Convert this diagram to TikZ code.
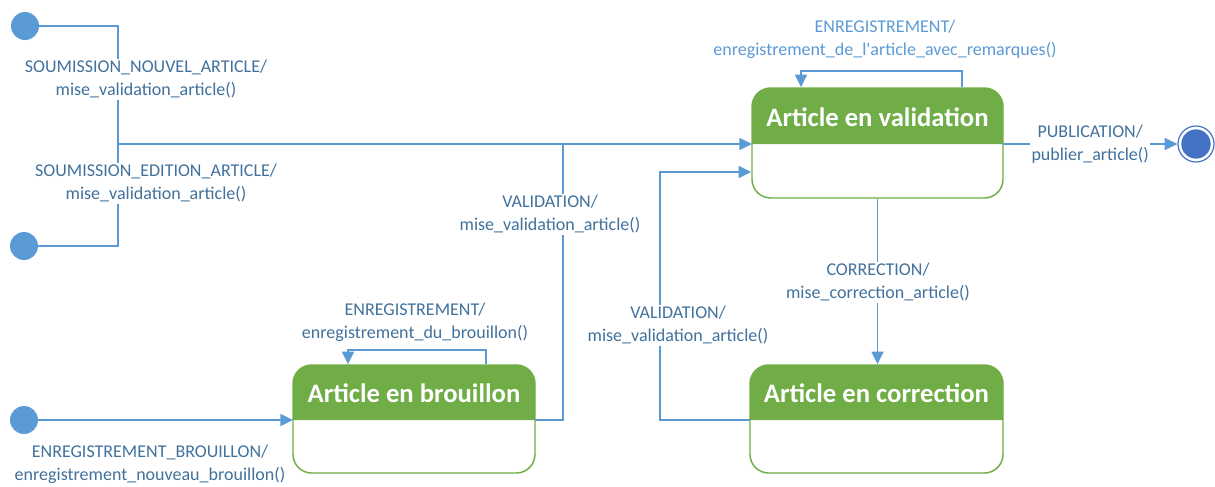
\documentclass[tikz,border=0pt]{standalone}
\usepackage{fontspec}
\setmainfont{Carlito}
\usetikzlibrary{arrows.meta,fit,calc}

\definecolor{flowblue}{HTML}{5B9BD5}
\definecolor{labelblue}{HTML}{41719C}
\definecolor{stategreen}{HTML}{70AD47}
\definecolor{finalblue}{HTML}{4472C4}

\tikzset{
  flow/.style={draw=flowblue, line width=1.1pt},
  arrow/.style={flow, -{Triangle[length=9.5pt,width=9pt]}},
  trans/.style={text=labelblue, fill=white, align=center, inner sep=1pt,
    font=\fontsize{13.5}{17.5}\selectfont},
  translight/.style={trans, text=flowblue},
  initial/.style={circle, fill=flowblue, minimum size=21pt, inner sep=0pt},
  finalring/.style={circle, draw=finalblue, line width=0.9pt, fill=white,
    minimum size=27pt, inner sep=0pt},
  finalcore/.style={circle, fill=finalblue, minimum size=22pt, inner sep=0pt},
  statebody/.style={draw=stategreen, line width=1.1pt, rounded corners=14pt,
    inner sep=0pt},
  statetitle/.style={text=white, font=\fontsize{20}{24}\selectfont\bfseries,
    inner sep=0pt},
}

% #1 name, #2 left, #3 top, #4 right, #5 bottom, #6 header line, #7 title
\newcommand\umlstate[7]{%
  \coordinate (#1-nw) at (#2,#3);
  \coordinate (#1-se) at (#4,#5);
  \coordinate (#1-dw) at (#2,#6);
  \coordinate (#1-de) at (#4,#6);
  \fill[stategreen] (#1-dw) [rounded corners=14pt] -- (#1-nw) -- (#1-nw -| #1-se)
    [sharp corners] -- (#1-de) -- cycle;
  \node[statebody, fit=(#1-nw)(#1-se)] (#1) {};
  \node[statetitle] (#1-title) at ($(#1-nw)!0.5!(#1-de)+(0,1)$) {#7};
}

\begin{document}
\begin{tikzpicture}[x=0.75pt, y=-0.75pt]
  \useasboundingbox (0,0) rectangle (1215,486);

  % states
  \umlstate{val}{752}{88}{1003}{198}{144}{Article en validation}
  \umlstate{corr}{750}{365}{1003}{473}{420}{Article en correction}
  \umlstate{brou}{293}{365}{535}{473}{420}{Article en brouillon}

  % initial and final pseudo-states
  \node[initial] (init1) at (25,26) {};
  \node[initial] (init2) at (24,246) {};
  \node[initial] (init3) at (24,420) {};
  \node[finalring] (final) at (1196,144) {};
  \node[finalcore] (final-core) at (final) {};

  % bend points
  \coordinate (merge) at (118,144);
  \coordinate (join) at (563,144);
  \coordinate (back) at (660,172);
  \coordinate (vloopR) at (962,71);
  \coordinate (vloopL) at (801,71);
  \coordinate (bloopR) at (486,350);
  \coordinate (bloopL) at (348,350);

  % transitions
  \draw[flow] (init1) -| (merge);
  \draw[flow] (init2) -| (merge);
  \draw[arrow] (merge) -- (val-dw);
  \draw[arrow] (init3) -- (brou-dw);
  \draw[flow] (brou-de) -| (join);
  \draw[arrow] (corr-dw) -| (back) -- (back -| val.west);
  \draw[arrow] (val.south) -- (val.south |- corr.north);
  \draw[arrow] (vloopR |- val.north) -- (vloopR) -- (vloopL) -- (vloopL |- val.north);
  \draw[arrow] (bloopR |- brou.north) -- (bloopR) -- (bloopL) -- (bloopL |- brou.north);
  \draw[arrow] (val-de) -- (final)
    node[trans, pos=0.5] (lpub) {PUBLICATION/\\publier\_article()};

  % transition labels
  \node[trans] (lnew) at (146,79) {SOUMISSION\_NOUVEL\_ARTICLE/\\mise\_validation\_article()};
  \node[trans] (ledit) at (156,183) {SOUMISSION\_EDITION\_ARTICLE/\\mise\_validation\_article()};
  \node[trans] (lval1) at (550,214) {VALIDATION/\\mise\_validation\_article()};
  \node[translight] (lsave) at (885,39) {ENREGISTREMENT/\\enregistrement\_de\_l\textquotesingle article\_avec\_remarques()};
  \node[trans] (lcorr) at (878,282) {CORRECTION/\\mise\_correction\_article()};
  \node[trans] (lval2) at (678,325) {VALIDATION/\\mise\_validation\_article()};
  \node[trans] (ldraft) at (415,322) {ENREGISTREMENT/\\enregistrement\_du\_brouillon()};
  \node[trans] (lnewdraft) at (150,464) {ENREGISTREMENT\_BROUILLON/\\enregistrement\_nouveau\_brouillon()};
\end{tikzpicture}
\end{document}
